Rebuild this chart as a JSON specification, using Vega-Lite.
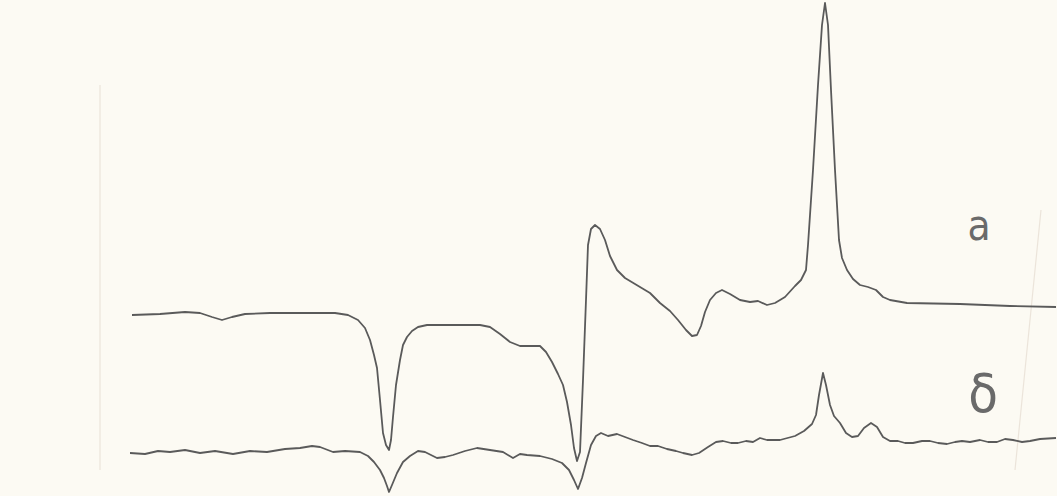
{
  "$schema": "https://vega.github.io/schema/vega-lite/v6.json",
  "autosize": {"type": "fit", "contains": "padding"},
  "width": 1057,
  "height": 496,
  "padding": 0,
  "background": "#fcfaf3",
  "config": {"view": {"stroke": null}},
  "datasets": {
    "curves": [
      {"s": "a", "i": 1, "x": 132, "y": 315},
      {"s": "a", "i": 2, "x": 160, "y": 314},
      {"s": "a", "i": 3, "x": 185, "y": 312},
      {"s": "a", "i": 4, "x": 200, "y": 313},
      {"s": "a", "i": 5, "x": 212, "y": 317},
      {"s": "a", "i": 6, "x": 222, "y": 320},
      {"s": "a", "i": 7, "x": 232, "y": 317},
      {"s": "a", "i": 8, "x": 245, "y": 314},
      {"s": "a", "i": 9, "x": 270, "y": 313},
      {"s": "a", "i": 10, "x": 300, "y": 313},
      {"s": "a", "i": 11, "x": 335, "y": 313},
      {"s": "a", "i": 12, "x": 348, "y": 315},
      {"s": "a", "i": 13, "x": 358, "y": 320},
      {"s": "a", "i": 14, "x": 365, "y": 328},
      {"s": "a", "i": 15, "x": 370, "y": 340},
      {"s": "a", "i": 16, "x": 374, "y": 355},
      {"s": "a", "i": 17, "x": 377, "y": 368},
      {"s": "a", "i": 18, "x": 380, "y": 400},
      {"s": "a", "i": 19, "x": 383, "y": 433},
      {"s": "a", "i": 20, "x": 386, "y": 445},
      {"s": "a", "i": 21, "x": 389, "y": 450},
      {"s": "a", "i": 22, "x": 391, "y": 440},
      {"s": "a", "i": 23, "x": 393, "y": 417},
      {"s": "a", "i": 24, "x": 396, "y": 385},
      {"s": "a", "i": 25, "x": 400, "y": 360},
      {"s": "a", "i": 26, "x": 403, "y": 345},
      {"s": "a", "i": 27, "x": 407, "y": 337},
      {"s": "a", "i": 28, "x": 412, "y": 331},
      {"s": "a", "i": 29, "x": 418, "y": 327},
      {"s": "a", "i": 30, "x": 427, "y": 325},
      {"s": "a", "i": 31, "x": 450, "y": 325},
      {"s": "a", "i": 32, "x": 480, "y": 325},
      {"s": "a", "i": 33, "x": 490, "y": 327},
      {"s": "a", "i": 34, "x": 500, "y": 334},
      {"s": "a", "i": 35, "x": 510, "y": 342},
      {"s": "a", "i": 36, "x": 520, "y": 346},
      {"s": "a", "i": 37, "x": 540, "y": 346},
      {"s": "a", "i": 38, "x": 546, "y": 352},
      {"s": "a", "i": 39, "x": 552, "y": 362},
      {"s": "a", "i": 40, "x": 558, "y": 374},
      {"s": "a", "i": 41, "x": 563, "y": 385},
      {"s": "a", "i": 42, "x": 567, "y": 402},
      {"s": "a", "i": 43, "x": 571, "y": 425},
      {"s": "a", "i": 44, "x": 574, "y": 448},
      {"s": "a", "i": 45, "x": 577, "y": 461},
      {"s": "a", "i": 46, "x": 580, "y": 452},
      {"s": "a", "i": 47, "x": 583, "y": 380},
      {"s": "a", "i": 48, "x": 586, "y": 300},
      {"s": "a", "i": 49, "x": 588, "y": 245},
      {"s": "a", "i": 50, "x": 591, "y": 229},
      {"s": "a", "i": 51, "x": 595, "y": 225},
      {"s": "a", "i": 52, "x": 600, "y": 229},
      {"s": "a", "i": 53, "x": 605, "y": 240},
      {"s": "a", "i": 54, "x": 610, "y": 256},
      {"s": "a", "i": 55, "x": 617, "y": 270},
      {"s": "a", "i": 56, "x": 625, "y": 278},
      {"s": "a", "i": 57, "x": 635, "y": 284},
      {"s": "a", "i": 58, "x": 650, "y": 293},
      {"s": "a", "i": 59, "x": 660, "y": 303},
      {"s": "a", "i": 60, "x": 670, "y": 311},
      {"s": "a", "i": 61, "x": 678, "y": 320},
      {"s": "a", "i": 62, "x": 686, "y": 330},
      {"s": "a", "i": 63, "x": 692, "y": 336},
      {"s": "a", "i": 64, "x": 697, "y": 335},
      {"s": "a", "i": 65, "x": 701, "y": 326},
      {"s": "a", "i": 66, "x": 705, "y": 312},
      {"s": "a", "i": 67, "x": 710, "y": 300},
      {"s": "a", "i": 68, "x": 716, "y": 293},
      {"s": "a", "i": 69, "x": 722, "y": 290},
      {"s": "a", "i": 70, "x": 730, "y": 294},
      {"s": "a", "i": 71, "x": 740, "y": 300},
      {"s": "a", "i": 72, "x": 750, "y": 302},
      {"s": "a", "i": 73, "x": 758, "y": 301},
      {"s": "a", "i": 74, "x": 767, "y": 305},
      {"s": "a", "i": 75, "x": 775, "y": 303},
      {"s": "a", "i": 76, "x": 785, "y": 297},
      {"s": "a", "i": 77, "x": 795, "y": 286},
      {"s": "a", "i": 78, "x": 801, "y": 280},
      {"s": "a", "i": 79, "x": 806, "y": 270},
      {"s": "a", "i": 80, "x": 808, "y": 245},
      {"s": "a", "i": 81, "x": 813, "y": 170},
      {"s": "a", "i": 82, "x": 818, "y": 85},
      {"s": "a", "i": 83, "x": 822, "y": 25},
      {"s": "a", "i": 84, "x": 825, "y": 3},
      {"s": "a", "i": 85, "x": 828, "y": 25},
      {"s": "a", "i": 86, "x": 831, "y": 90},
      {"s": "a", "i": 87, "x": 835, "y": 170},
      {"s": "a", "i": 88, "x": 839, "y": 240},
      {"s": "a", "i": 89, "x": 842, "y": 258},
      {"s": "a", "i": 90, "x": 847, "y": 270},
      {"s": "a", "i": 91, "x": 853, "y": 279},
      {"s": "a", "i": 92, "x": 860, "y": 285},
      {"s": "a", "i": 93, "x": 868, "y": 287},
      {"s": "a", "i": 94, "x": 876, "y": 290},
      {"s": "a", "i": 95, "x": 883, "y": 297},
      {"s": "a", "i": 96, "x": 890, "y": 300},
      {"s": "a", "i": 97, "x": 907, "y": 303},
      {"s": "a", "i": 98, "x": 960, "y": 304},
      {"s": "a", "i": 99, "x": 1010, "y": 306},
      {"s": "a", "i": 100, "x": 1056, "y": 307},

      {"s": "b", "i": 1, "x": 130, "y": 453},
      {"s": "b", "i": 2, "x": 145, "y": 454},
      {"s": "b", "i": 3, "x": 158, "y": 451},
      {"s": "b", "i": 4, "x": 170, "y": 452},
      {"s": "b", "i": 5, "x": 185, "y": 450},
      {"s": "b", "i": 6, "x": 200, "y": 453},
      {"s": "b", "i": 7, "x": 215, "y": 451},
      {"s": "b", "i": 8, "x": 233, "y": 454},
      {"s": "b", "i": 9, "x": 250, "y": 451},
      {"s": "b", "i": 10, "x": 267, "y": 452},
      {"s": "b", "i": 11, "x": 285, "y": 449},
      {"s": "b", "i": 12, "x": 300, "y": 448},
      {"s": "b", "i": 13, "x": 312, "y": 446},
      {"s": "b", "i": 14, "x": 320, "y": 447},
      {"s": "b", "i": 15, "x": 333, "y": 452},
      {"s": "b", "i": 16, "x": 345, "y": 451},
      {"s": "b", "i": 17, "x": 360, "y": 452},
      {"s": "b", "i": 18, "x": 368, "y": 456},
      {"s": "b", "i": 19, "x": 374, "y": 462},
      {"s": "b", "i": 20, "x": 380, "y": 470},
      {"s": "b", "i": 21, "x": 384, "y": 478},
      {"s": "b", "i": 22, "x": 387, "y": 486},
      {"s": "b", "i": 23, "x": 389, "y": 492},
      {"s": "b", "i": 24, "x": 392, "y": 485},
      {"s": "b", "i": 25, "x": 397, "y": 473},
      {"s": "b", "i": 26, "x": 403, "y": 462},
      {"s": "b", "i": 27, "x": 410, "y": 456},
      {"s": "b", "i": 28, "x": 418, "y": 451},
      {"s": "b", "i": 29, "x": 425, "y": 452},
      {"s": "b", "i": 30, "x": 437, "y": 458},
      {"s": "b", "i": 31, "x": 445, "y": 457},
      {"s": "b", "i": 32, "x": 453, "y": 455},
      {"s": "b", "i": 33, "x": 465, "y": 451},
      {"s": "b", "i": 34, "x": 477, "y": 448},
      {"s": "b", "i": 35, "x": 490, "y": 450},
      {"s": "b", "i": 36, "x": 503, "y": 452},
      {"s": "b", "i": 37, "x": 513, "y": 458},
      {"s": "b", "i": 38, "x": 520, "y": 454},
      {"s": "b", "i": 39, "x": 527, "y": 455},
      {"s": "b", "i": 40, "x": 540, "y": 456},
      {"s": "b", "i": 41, "x": 552, "y": 459},
      {"s": "b", "i": 42, "x": 562, "y": 463},
      {"s": "b", "i": 43, "x": 569, "y": 470},
      {"s": "b", "i": 44, "x": 574, "y": 480},
      {"s": "b", "i": 45, "x": 578, "y": 489},
      {"s": "b", "i": 46, "x": 582, "y": 478},
      {"s": "b", "i": 47, "x": 586, "y": 463},
      {"s": "b", "i": 48, "x": 591, "y": 445},
      {"s": "b", "i": 49, "x": 596, "y": 436},
      {"s": "b", "i": 50, "x": 601, "y": 433},
      {"s": "b", "i": 51, "x": 608, "y": 436},
      {"s": "b", "i": 52, "x": 617, "y": 434},
      {"s": "b", "i": 53, "x": 625, "y": 437},
      {"s": "b", "i": 54, "x": 633, "y": 440},
      {"s": "b", "i": 55, "x": 642, "y": 443},
      {"s": "b", "i": 56, "x": 650, "y": 446},
      {"s": "b", "i": 57, "x": 658, "y": 446},
      {"s": "b", "i": 58, "x": 667, "y": 449},
      {"s": "b", "i": 59, "x": 676, "y": 451},
      {"s": "b", "i": 60, "x": 683, "y": 453},
      {"s": "b", "i": 61, "x": 692, "y": 455},
      {"s": "b", "i": 62, "x": 699, "y": 453},
      {"s": "b", "i": 63, "x": 708, "y": 447},
      {"s": "b", "i": 64, "x": 716, "y": 442},
      {"s": "b", "i": 65, "x": 723, "y": 441},
      {"s": "b", "i": 66, "x": 731, "y": 443},
      {"s": "b", "i": 67, "x": 738, "y": 443},
      {"s": "b", "i": 68, "x": 746, "y": 441},
      {"s": "b", "i": 69, "x": 753, "y": 442},
      {"s": "b", "i": 70, "x": 760, "y": 438},
      {"s": "b", "i": 71, "x": 767, "y": 440},
      {"s": "b", "i": 72, "x": 780, "y": 440},
      {"s": "b", "i": 73, "x": 795, "y": 436},
      {"s": "b", "i": 74, "x": 804, "y": 431},
      {"s": "b", "i": 75, "x": 812, "y": 424},
      {"s": "b", "i": 76, "x": 816, "y": 415},
      {"s": "b", "i": 77, "x": 819, "y": 395},
      {"s": "b", "i": 78, "x": 823, "y": 373},
      {"s": "b", "i": 79, "x": 826, "y": 385},
      {"s": "b", "i": 80, "x": 830, "y": 405},
      {"s": "b", "i": 81, "x": 834, "y": 416},
      {"s": "b", "i": 82, "x": 840, "y": 423},
      {"s": "b", "i": 83, "x": 846, "y": 433},
      {"s": "b", "i": 84, "x": 852, "y": 437},
      {"s": "b", "i": 85, "x": 858, "y": 436},
      {"s": "b", "i": 86, "x": 864, "y": 428},
      {"s": "b", "i": 87, "x": 871, "y": 423},
      {"s": "b", "i": 88, "x": 877, "y": 427},
      {"s": "b", "i": 89, "x": 883, "y": 437},
      {"s": "b", "i": 90, "x": 890, "y": 441},
      {"s": "b", "i": 91, "x": 898, "y": 441},
      {"s": "b", "i": 92, "x": 905, "y": 443},
      {"s": "b", "i": 93, "x": 913, "y": 443},
      {"s": "b", "i": 94, "x": 922, "y": 441},
      {"s": "b", "i": 95, "x": 930, "y": 441},
      {"s": "b", "i": 96, "x": 938, "y": 443},
      {"s": "b", "i": 97, "x": 947, "y": 444},
      {"s": "b", "i": 98, "x": 955, "y": 442},
      {"s": "b", "i": 99, "x": 962, "y": 441},
      {"s": "b", "i": 100, "x": 970, "y": 442},
      {"s": "b", "i": 101, "x": 980, "y": 440},
      {"s": "b", "i": 102, "x": 988, "y": 442},
      {"s": "b", "i": 103, "x": 997, "y": 442},
      {"s": "b", "i": 104, "x": 1005, "y": 439},
      {"s": "b", "i": 105, "x": 1013, "y": 440},
      {"s": "b", "i": 106, "x": 1022, "y": 442},
      {"s": "b", "i": 107, "x": 1030, "y": 441},
      {"s": "b", "i": 108, "x": 1040, "y": 439},
      {"s": "b", "i": 109, "x": 1056, "y": 438}
    ],
    "marks": [
      {"s": "left", "i": 1, "x": 100, "y": 85},
      {"s": "left", "i": 2, "x": 100, "y": 470},
      {"s": "right", "i": 1, "x": 1041, "y": 210},
      {"s": "right", "i": 2, "x": 1015, "y": 470}
    ],
    "labelA": [{"label": "а", "x": 979, "y": 240}],
    "labelB": [{"label": "δ", "x": 983, "y": 412}]
  },
  "layer": [
    {
      "data": {"name": "marks"},
      "mark": {"type": "line", "stroke": "#ebe4da", "strokeWidth": 1.2},
      "encoding": {
        "x": {"field": "x", "type": "quantitative", "scale": {"domain": [0, 1057]}, "axis": null},
        "y": {"field": "y", "type": "quantitative", "scale": {"domain": [0, 496], "reverse": true}, "axis": null},
        "detail": {"field": "s"},
        "order": {"field": "i"}
      }
    },
    {
      "data": {"name": "curves"},
      "mark": {"type": "line", "stroke": "#5a5a5a", "strokeWidth": 1.8, "interpolate": "linear", "strokeJoin": "round"},
      "encoding": {
        "x": {"field": "x", "type": "quantitative", "scale": {"domain": [0, 1057]}, "axis": null},
        "y": {"field": "y", "type": "quantitative", "scale": {"domain": [0, 496], "reverse": true}, "axis": null},
        "detail": {"field": "s"},
        "order": {"field": "i"}
      }
    },
    {
      "data": {"name": "labelA"},
      "mark": {"type": "text", "font": "DejaVu Sans Condensed", "fontSize": 42, "fontWeight": 300, "color": "#6a6a6a", "baseline": "alphabetic", "align": "center"},
      "encoding": {
        "x": {"field": "x", "type": "quantitative", "scale": {"domain": [0, 1057]}, "axis": null},
        "y": {"field": "y", "type": "quantitative", "scale": {"domain": [0, 496], "reverse": true}, "axis": null},
        "text": {"field": "label"}
      }
    },
    {
      "data": {"name": "labelB"},
      "mark": {"type": "text", "font": "DejaVu Sans Condensed", "fontSize": 54, "fontWeight": 300, "color": "#6a6a6a", "baseline": "alphabetic", "align": "center"},
      "encoding": {
        "x": {"field": "x", "type": "quantitative", "scale": {"domain": [0, 1057]}, "axis": null},
        "y": {"field": "y", "type": "quantitative", "scale": {"domain": [0, 496], "reverse": true}, "axis": null},
        "text": {"field": "label"}
      }
    }
  ]
}
